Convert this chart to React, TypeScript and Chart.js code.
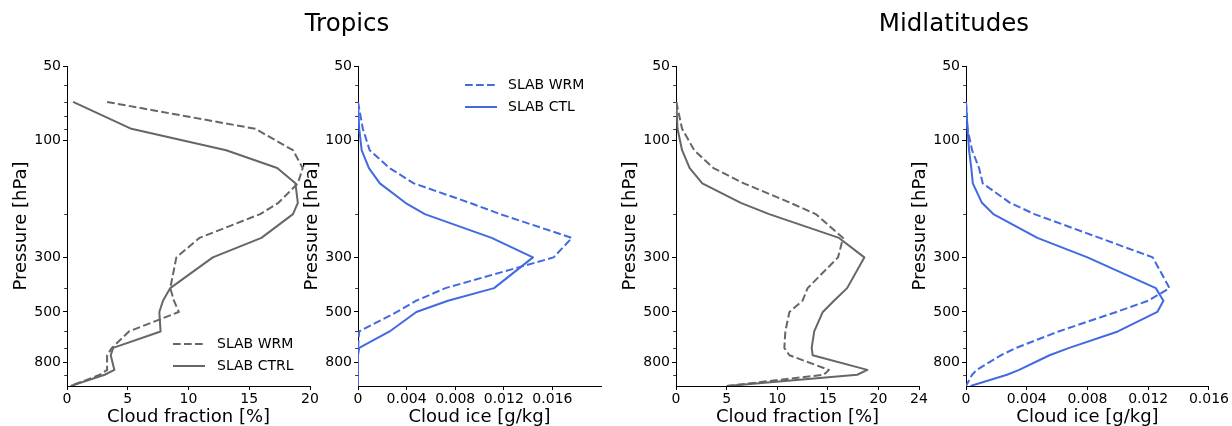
import React, { useEffect, useRef } from 'react';
import { Chart, registerables } from 'chart.js';

Chart.register(...registerables);
Chart.defaults.font.family = '"DejaVu Sans", sans-serif';
Chart.defaults.color = '#000';

// ---- data ----
const PRESSURE = [70, 90, 110, 130, 150, 180, 200, 250, 300, 400, 450, 500, 600, 700, 750, 860, 900, 1000];

const TROP_CF_WRM = [3.3, 15.5, 18.6, 19.4, 19.0, 17.4, 15.9, 10.9, 9.0, 8.5, 8.8, 9.2, 5.1, 3.7, 3.3, 3.3, 2.7, 0.3];
const TROP_CF_CTRL = [0.5, 5.3, 13.1, 17.3, 18.8, 19.0, 18.6, 16.0, 12.0, 8.5, 7.9, 7.6, 7.7, 3.8, 3.6, 3.9, 3.1, 0.3];

const TROP_CI_WRM = [0, 0.0004, 0.00096, 0.0026, 0.0046, 0.0092, 0.0117, 0.0176, 0.0161, 0.0072, 0.0048, 0.0032, 0.0001, 0, 0, 0, 0, 0];
const TROP_CI_CTL = [0, 0.0001, 0.0003, 0.0009, 0.0018, 0.0039, 0.0055, 0.011, 0.0144, 0.0112, 0.0074, 0.0048, 0.0026, 0.0001, 0, 0, 0, 0];

const MID_CF_WRM = [0.03, 0.6, 1.8, 3.7, 6.7, 11.3, 13.8, 16.5, 16.0, 13.0, 12.5, 11.2, 10.8, 10.7, 11.2, 15.1, 14.6, 5.0];
const MID_CF_CTRL = [0.03, 0.15, 0.6, 1.35, 2.6, 6.4, 9.2, 16.1, 18.6, 16.9, 15.6, 14.5, 13.65, 13.4, 13.5, 18.9, 17.9, 5.05];

const MID_CI_WRM = [0, 0.0001, 0.0004, 0.00086, 0.0011, 0.0029, 0.0045, 0.0088, 0.0123, 0.0134, 0.012, 0.0099, 0.0061, 0.0033, 0.0023, 0.0007, 0.0004, 0];
const MID_CI_CTL = [0, 0.0001, 0.0002, 0.00035, 0.00045, 0.00105, 0.0018, 0.0047, 0.008, 0.0125, 0.013, 0.0126, 0.01, 0.0068, 0.0055, 0.0035, 0.0027, 0.0003];

const Y_TICKS = [50, 100, 300, 500, 800];
const Y_MINOR = [60, 70, 80, 90, 200, 400, 600, 700, 900];
const CF_TICKS_TROP = [0, 5, 10, 15, 20];
const CF_TICKS_MID = [0, 5, 10, 15, 20, 24];
const CI_TICKS = [0, 0.004, 0.008, 0.012, 0.016];

const TITLES = ['Tropics', 'Midlatitudes'];
const LABELS_CF = ['SLAB WRM', 'SLAB CTRL'];
const LABELS_CI = ['SLAB WRM', 'SLAB CTL'];

const GRAY = '#666666';
const BLUE = '#4169E1';
const AXIS_W = 67;
const PLOT_W = 243;
const PAD_R = 22;

type LegendCfg = { anchor: 'top' | 'bottom'; right: number; rows: number[]; handle: number; gap: number } | null;

interface PanelCfg {
  left: number;
  xMax: number;
  xTicks: number[];
  xTitle: string;
  color: string;
  wrm: number[];
  ctl: number[];
  labels: string[];
  legend: LegendCfg;
}

const PANELS: PanelCfg[] = [
  { left: 67, xMax: 20, xTicks: CF_TICKS_TROP, xTitle: 'Cloud fraction [%]', color: GRAY, wrm: TROP_CF_WRM, ctl: TROP_CF_CTRL, labels: LABELS_CF, legend: { anchor: 'bottom', right: 137, rows: [42, 20], handle: 32, gap: 12 } },
  { left: 358, xMax: 0.02, xTicks: CI_TICKS, xTitle: 'Cloud ice [g/kg]', color: BLUE, wrm: TROP_CI_WRM, ctl: TROP_CI_CTL, labels: LABELS_CI, legend: { anchor: 'top', right: 136, rows: [19, 41], handle: 32, gap: 11 } },
  { left: 676, xMax: 24, xTicks: CF_TICKS_MID, xTitle: 'Cloud fraction [%]', color: GRAY, wrm: MID_CF_WRM, ctl: MID_CF_CTRL, labels: LABELS_CF, legend: null },
  { left: 966, xMax: 0.016, xTicks: CI_TICKS, xTitle: 'Cloud ice [g/kg]', color: BLUE, wrm: MID_CI_WRM, ctl: MID_CI_CTL, labels: LABELS_CI, legend: null },
];

const minorTicks = {
  id: 'minorTicks',
  afterDraw(chart: any) {
    const s = chart.scales.y;
    const { ctx, chartArea } = chart;
    ctx.save();
    ctx.strokeStyle = '#000';
    ctx.lineWidth = 0.8;
    Y_MINOR.forEach((v) => {
      const y = Math.round(s.getPixelForValue(v)) + 0.5;
      ctx.beginPath();
      ctx.moveTo(chartArea.left - 2.8, y);
      ctx.lineTo(chartArea.left, y);
      ctx.stroke();
    });
    ctx.restore();
  },
};

const cornerLegend = {
  id: 'cornerLegend',
  afterDraw(chart: any, _args: any, opts: any) {
    if (!opts || !opts.cfg) return;
    const cfg = opts.cfg;
    const { ctx, chartArea } = chart;
    const x0 = chartArea.right - cfg.right;
    chart.data.datasets.forEach((ds: any, i: number) => {
      const y = cfg.anchor === 'bottom' ? chartArea.bottom - cfg.rows[i] : chartArea.top + cfg.rows[i];
      ctx.save();
      ctx.strokeStyle = ds.borderColor;
      ctx.lineWidth = ds.borderWidth;
      ctx.setLineDash(ds.borderDash || []);
      ctx.beginPath();
      ctx.moveTo(x0, y);
      ctx.lineTo(x0 + cfg.handle, y);
      ctx.stroke();
      ctx.setLineDash([]);
      ctx.fillStyle = '#000';
      ctx.font = '14px "DejaVu Sans"';
      ctx.textBaseline = 'middle';
      ctx.textAlign = 'left';
      ctx.fillText(ds.label, x0 + cfg.handle + cfg.gap, y);
      ctx.restore();
    });
  },
};

function Panel({ cfg }: { cfg: PanelCfg }) {
  const ref = useRef<HTMLCanvasElement>(null);
  useEffect(() => {
    const toPts = (vals: number[]) => PRESSURE.map((p, i) => ({ x: vals[i], y: p }));
    const chart = new Chart(ref.current as HTMLCanvasElement, {
      type: 'scatter',
      data: {
        datasets: [
          {
            label: cfg.labels[0],
            data: toPts(cfg.wrm),
            showLine: true,
            borderColor: cfg.color,
            backgroundColor: cfg.color,
            borderWidth: 2,
            borderDash: [7.7, 3.3],
            pointRadius: 0,
            tension: 0,
            borderJoinStyle: 'round',
          },
          {
            label: cfg.labels[1],
            data: toPts(cfg.ctl),
            showLine: true,
            borderColor: cfg.color,
            backgroundColor: cfg.color,
            borderWidth: 2,
            pointRadius: 0,
            tension: 0,
            borderJoinStyle: 'round',
          },
        ],
      },
      plugins: [minorTicks, cornerLegend],
      options: {
        responsive: false,
        animation: false,
        layout: { padding: { top: 66, right: PAD_R, left: 0, bottom: 0 } },
        plugins: {
          legend: { display: false },
          tooltip: { enabled: false },
          cornerLegend: { cfg: cfg.legend },
        } as any,
        scales: {
          x: {
            type: 'linear',
            min: 0,
            max: cfg.xMax,
            afterBuildTicks: (s: any) => {
              s.ticks = cfg.xTicks.map((v) => ({ value: v }));
            },
            afterFit: (s: any) => {
              s.height = 40;
            },
            ticks: {
              font: { size: 14, lineHeight: 1 },
              padding: 2,
              maxRotation: 0,
              autoSkip: false,
              callback: (v: any) => String(v),
            },
            grid: { drawOnChartArea: false, drawTicks: true, tickLength: 4, tickColor: '#000', tickWidth: 1 },
            border: { display: true, color: '#000', width: 1 },
            title: { display: true, text: cfg.xTitle, font: { size: 18, lineHeight: 1 }, padding: { top: 0, bottom: 0 } },
          },
          y: {
            type: 'logarithmic',
            reverse: true,
            min: 50,
            max: 1000,
            afterBuildTicks: (s: any) => {
              s.ticks = Y_TICKS.map((v) => ({ value: v }));
            },
            afterFit: (s: any) => {
              s.width = AXIS_W;
            },
            ticks: {
              font: { size: 14, lineHeight: 1 },
              padding: 2,
              autoSkip: false,
              callback: (v: any) => String(v),
            },
            grid: { drawOnChartArea: false, drawTicks: true, tickLength: 4, tickColor: '#000', tickWidth: 1 },
            border: { display: true, color: '#000', width: 1 },
            title: { display: true, text: 'Pressure [hPa]', font: { size: 18, lineHeight: 1 }, padding: { top: 12, bottom: 0 } },
          },
        },
      } as any,
    });
    return () => chart.destroy();
  }, [cfg]);
  return (
    <canvas
      ref={ref}
      width={AXIS_W + PLOT_W + PAD_R}
      height={426}
      style={{ position: 'absolute', left: cfg.left - AXIS_W, top: 0 }}
    />
  );
}

const TITLE_CENTERS = [347, 954];

export default function App() {
  return (
    <div
      style={{
        position: 'fixed',
        left: 0,
        top: 0,
        width: 1232,
        height: 426,
        overflow: 'hidden',
        background: '#fff',
        fontFamily: '"DejaVu Sans", sans-serif',
      }}
    >
      {PANELS.map((p, i) => (
        <Panel key={i} cfg={p} />
      ))}
      {TITLES.map((t, i) => (
        <div
          key={t}
          style={{
            position: 'absolute',
            left: TITLE_CENTERS[i] - 200,
            width: 400,
            top: 10,
            textAlign: 'center',
            fontSize: 24.5,
            lineHeight: '25px',
            color: '#000',
          }}
        >
          {t}
        </div>
      ))}
    </div>
  );
}
